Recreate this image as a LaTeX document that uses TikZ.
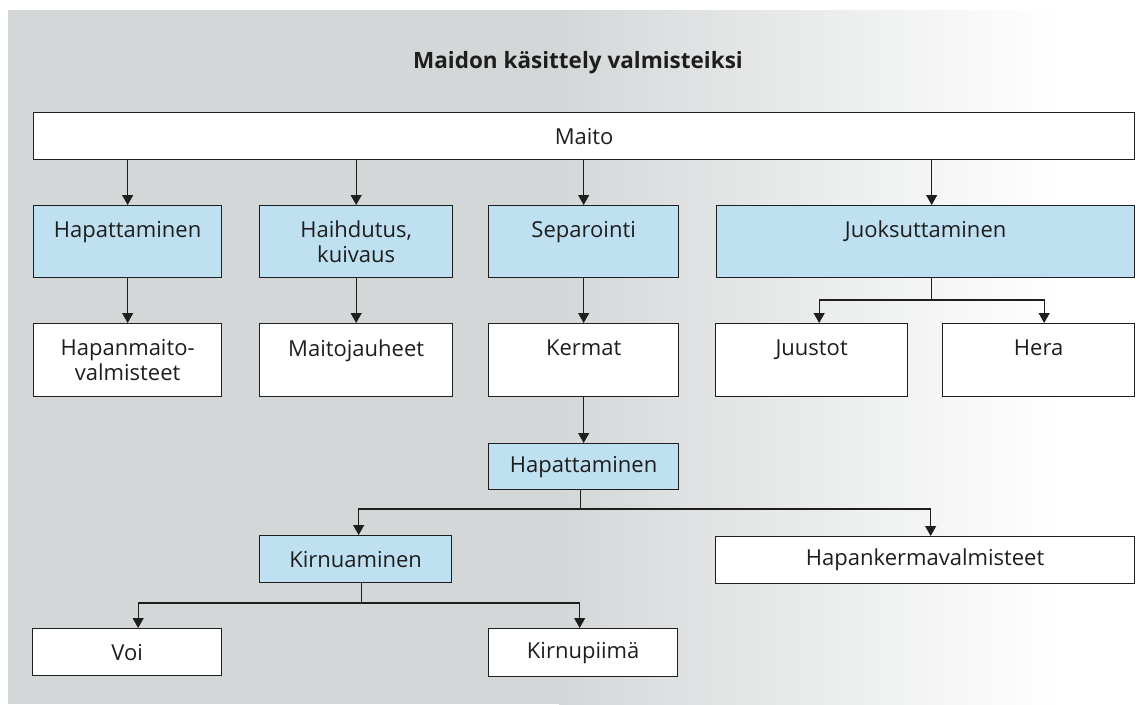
\documentclass[tikz,border=0pt]{standalone}
\usepackage{fontspec}
\setmainfont{Open Sans}
\usetikzlibrary{arrows.meta,calc}
\definecolor{bgg}{RGB}{212,215,216}
\definecolor{procblue}{RGB}{190,224,241}
\definecolor{ink}{RGB}{30,30,30}
\tikzset{
  box/.style={draw=ink, line width=1.3pt, fill=white, inner sep=0pt, anchor=north west,
    font=\fontsize{22}{25}\selectfont, align=center, text=ink},
  proc/.style={box, fill=procblue},
  arr/.style={line width=1.1pt, draw=ink, -{Triangle[length=10pt,width=11pt]}},
  conn/.style={line width=1.1pt, draw=ink},
  title/.style={font=\fontsize{22.5}{26}\selectfont\bfseries, text=ink}
}
\begin{document}
\begin{tikzpicture}[x=1pt,y=-1pt]
\useasboundingbox (0,0) rectangle (1139,704);
\fill[white] (0,0) rectangle (1139,704);
\fill[bgg] (8,10) rectangle (560,704);
\shade[left color=bgg, right color=white] (559,10) rectangle (1060,704);

\node[title] (title) at (578,63) {Maidon käsittely valmisteiksi};

\node[box, minimum width=1101pt, minimum height=47pt] (maito) at (33,112) {Maito};

\node[proc, minimum width=188pt, minimum height=72pt] (h1) at (33,205) {Hapattaminen\\\mbox{}};
\node[proc, minimum width=193pt, minimum height=72pt] (h2) at (259,205) {Haihdutus,\\kuivaus};
\node[proc, minimum width=190pt, minimum height=72pt] (sep) at (488,205) {Separointi\\\mbox{}};
\node[proc, minimum width=418pt, minimum height=72pt] (juok) at (716,205) {Juoksuttaminen\\\mbox{}};

\node[box, minimum width=188pt, minimum height=73pt] (hmv) at (33,323) {Hapanmaito-\\valmisteet};
\node[box, minimum width=193pt, minimum height=73pt] (mj) at (259,323) {Maitojauheet\\\mbox{}};
\node[box, minimum width=190pt, minimum height=73pt] (ker) at (488,323) {Kermat\\\mbox{}};
\node[box, minimum width=192pt, minimum height=73pt] (juu) at (715,323) {Juustot\\\mbox{}};
\node[box, minimum width=192pt, minimum height=73pt] (hera) at (942,323) {Hera\\\mbox{}};

\node[proc, minimum width=190pt, minimum height=46pt] (hap2) at (488,443) {Hapattaminen};
\node[proc, minimum width=192pt, minimum height=47pt] (kirn) at (259,535) {Kirnuaminen};
\node[box, minimum width=419pt, minimum height=47pt] (hapk) at (715,536) {Hapankermavalmisteet};
\node[box, minimum width=189pt, minimum height=47pt] (voi) at (32,628) {Voi};
\node[box, minimum width=189pt, minimum height=48pt] (kirnp) at (488,628) {Kirnupiimä};

% Maito to row 2
\draw[arr] (maito.south -| h1.north) -- (h1.north);
\draw[arr] (maito.south -| h2.north) -- (h2.north);
\draw[arr] (maito.south -| sep.north) -- (sep.north);
\draw[arr] ([xshift=6pt]maito.south -| juok.north) -- ([xshift=6pt]juok.north);

% row 2 to row 3
\draw[arr] (h1.south) -- (hmv.north);
\draw[arr] (h2.south) -- (mj.north);
\draw[arr] (sep.south) -- (ker.north);
\draw[arr] (ker.south) -- (hap2.north);

% Juoksuttaminen split
\coordinate (js) at ([xshift=6pt]juok.south);
\draw[conn] (js) -- (js |- 0,300);
\draw[arr] (js |- 0,300) -| ([xshift=7.5pt]juu.north);
\draw[arr] (js |- 0,300) -| ([xshift=5.5pt]hera.north);

% Hapattaminen 2 split
\coordinate (hs) at ([xshift=-3pt]hap2.south);
\draw[conn] (hs) -- (hs |- 0,509);
\draw[arr] (hs |- 0,509) -| ([xshift=3pt]kirn.north);
\draw[arr] (hs |- 0,509) -| ([xshift=5.5pt]hapk.north);

% Kirnuaminen split
\coordinate (ks) at ([xshift=6pt]kirn.south);
\draw[conn] (ks) -- (ks |- 0,603);
\draw[arr] (ks |- 0,603) -| ([xshift=11pt]voi.north);
\draw[arr] (ks |- 0,603) -| ([xshift=-3.5pt]kirnp.north);
\end{tikzpicture}
\end{document}
